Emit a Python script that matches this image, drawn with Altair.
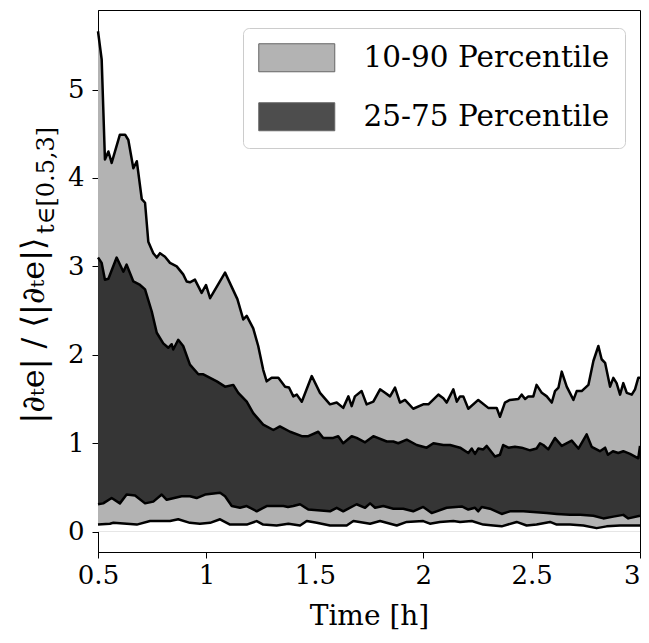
import altair as alt
import pandas as pd

# ---- data ----
p90_t = [0.500,0.517,0.532,0.548,0.563,0.601,0.625,0.640,0.663,0.679,0.702,0.717,0.732,0.755,0.771,0.786,0.809,0.832,0.863,0.893,0.909,0.924,0.947,0.978,0.998,1.017,1.086,1.143,1.170,1.186,1.216,1.239,1.262,1.278,1.301,1.332,1.363,1.381,1.401,1.417,1.440,1.486,1.524,1.570,1.601,1.631,1.655,1.670,1.685,1.716,1.739,1.770,1.801,1.824,1.847,1.870,1.893,1.916,1.954,2.000,2.024,2.070,2.093,2.108,2.139,2.155,2.170,2.185,2.208,2.254,2.300,2.339,2.354,2.377,2.400,2.439,2.454,2.470,2.485,2.508,2.523,2.547,2.570,2.593,2.608,2.624,2.639,2.662,2.693,2.708,2.731,2.762,2.785,2.808,2.823,2.839,2.862,2.877,2.892,2.908,2.923,2.939,2.962,2.977,2.992,3.000]
p90_v = [5.66,5.34,4.21,4.30,4.17,4.49,4.49,4.43,4.11,4.19,3.76,3.72,3.28,3.15,3.10,3.15,3.11,3.04,3.00,2.91,2.83,2.82,2.85,2.70,2.79,2.64,2.93,2.63,2.40,2.44,2.30,2.10,1.83,1.70,1.74,1.74,1.64,1.63,1.53,1.55,1.47,1.76,1.57,1.44,1.46,1.40,1.53,1.42,1.53,1.59,1.44,1.47,1.61,1.57,1.53,1.63,1.46,1.49,1.39,1.44,1.44,1.55,1.51,1.46,1.61,1.47,1.53,1.53,1.39,1.49,1.40,1.40,1.30,1.46,1.49,1.50,1.55,1.50,1.53,1.53,1.66,1.57,1.53,1.46,1.59,1.63,1.81,1.64,1.49,1.59,1.59,1.66,1.93,2.10,1.95,1.91,1.64,1.74,1.68,1.55,1.68,1.57,1.55,1.61,1.74,1.74]

p75_t = [0.500,0.517,0.532,0.548,0.586,0.617,0.632,0.663,0.694,0.717,0.748,0.771,0.801,0.824,0.840,0.847,0.870,0.893,0.924,0.963,0.986,1.017,1.048,1.086,1.124,1.147,1.186,1.216,1.262,1.309,1.339,1.386,1.440,1.470,1.516,1.539,1.585,1.608,1.631,1.670,1.693,1.732,1.770,1.832,1.862,1.885,1.924,1.970,2.016,2.047,2.093,2.124,2.170,2.208,2.224,2.239,2.254,2.277,2.293,2.331,2.354,2.369,2.393,2.423,2.454,2.493,2.523,2.539,2.554,2.577,2.608,2.639,2.685,2.716,2.754,2.777,2.815,2.839,2.852,2.875,2.900,2.923,2.954,2.992,3.000]
p75_v = [3.10,3.04,2.85,2.86,3.10,2.94,3.02,2.83,2.79,2.74,2.49,2.25,2.13,2.08,2.12,2.06,2.17,2.10,1.89,1.78,1.78,1.74,1.70,1.64,1.66,1.57,1.47,1.34,1.21,1.15,1.19,1.13,1.08,1.08,1.13,1.06,1.06,1.08,1.00,1.08,1.06,1.01,1.08,1.02,1.02,1.00,1.04,0.98,0.95,1.00,0.98,0.98,0.95,0.89,0.94,0.88,0.94,0.93,0.97,0.85,0.87,0.98,0.95,0.96,0.95,0.92,0.94,1.00,0.98,0.93,1.06,0.97,1.03,0.94,1.10,0.96,0.91,0.95,0.87,0.91,0.89,0.91,0.88,0.83,0.97]

p25_t = [0.500,0.524,0.563,0.601,0.632,0.671,0.717,0.755,0.794,0.817,0.886,0.924,0.955,0.994,1.063,1.086,1.117,1.155,1.186,1.232,1.278,1.355,1.376,1.401,1.432,1.470,1.570,1.601,1.631,1.693,1.732,1.755,1.778,1.816,1.862,1.908,1.954,2.000,2.039,2.108,2.178,2.208,2.239,2.254,2.270,2.308,2.362,2.400,2.462,2.523,2.570,2.616,2.677,2.724,2.785,2.831,2.877,2.923,2.946,3.000]
p25_v = [0.31,0.32,0.38,0.32,0.42,0.41,0.32,0.34,0.42,0.36,0.40,0.40,0.38,0.42,0.44,0.40,0.29,0.27,0.29,0.23,0.29,0.29,0.28,0.29,0.31,0.25,0.23,0.27,0.23,0.31,0.27,0.32,0.27,0.29,0.26,0.26,0.23,0.28,0.21,0.27,0.285,0.25,0.27,0.23,0.28,0.26,0.20,0.23,0.23,0.22,0.21,0.20,0.19,0.19,0.18,0.15,0.17,0.19,0.15,0.18]

p10_t = [0.500,0.555,0.571,0.679,0.740,0.832,0.870,0.924,0.970,1.017,1.063,1.109,1.186,1.232,1.262,1.324,1.378,1.432,1.463,1.509,1.570,1.647,1.678,1.755,1.801,1.878,1.924,2.000,2.031,2.077,2.139,2.170,2.224,2.277,2.323,2.362,2.431,2.477,2.523,2.585,2.616,2.677,2.739,2.800,2.846,2.908,3.000]
p10_v = [0.08,0.09,0.10,0.08,0.12,0.12,0.14,0.10,0.09,0.10,0.14,0.08,0.08,0.12,0.08,0.07,0.09,0.07,0.12,0.10,0.07,0.07,0.12,0.09,0.12,0.07,0.11,0.12,0.09,0.11,0.12,0.11,0.12,0.08,0.07,0.06,0.11,0.07,0.08,0.11,0.08,0.08,0.07,0.04,0.06,0.07,0.07]

legend_labels = ["10-90 Percentile", "25-75 Percentile"]
legend_colors = ["#b3b3b3", "#4d4d4d"]
x_ticks = [0.5, 1, 1.5, 2, 2.5, 3]
y_ticks = [0, 1, 2, 3, 4, 5]
x_title = "Time [h]"
y_title = "|∂ₜe| / ⟨|∂ₜe|⟩"
y_subscript = "t∈[0.5,3]"

FONT = "DejaVu Serif"

d90 = pd.DataFrame({"t": p90_t, "v": p90_v, "band": legend_labels[0], "curve": "p90"})
d75 = pd.DataFrame({"t": p75_t, "v": p75_v, "band": legend_labels[1], "curve": "p75"})
d25 = pd.DataFrame({"t": p25_t, "v": p25_v, "curve": "p25"})
d10 = pd.DataFrame({"t": p10_t, "v": p10_v, "curve": "p10"})
dall = pd.concat([d90, d75, d25, d10], ignore_index=True)[["t", "v", "curve"]]

x = alt.X("t:Q",
          scale=alt.Scale(domain=[0.5, 3], nice=False, zero=False),
          axis=alt.Axis(values=x_ticks, format="~g", title=x_title,
                        labelPadding=4, titlePadding=14,
                        labelAlign=alt.ExprRef("datum.value == 3 ? 'right' : 'center'")))
y = alt.Y("v:Q",
          scale=alt.Scale(domain=[-0.23, 5.9], nice=False, zero=False),
          axis=alt.Axis(values=y_ticks, title=y_title, titleX=-65, titleY=413,
                        titleAngle=270, titleAlign="left", titleBaseline="middle",
                        labelPadding=8, titleFontSize=32))

color = alt.Color("band:N",
                  scale=alt.Scale(domain=legend_labels, range=legend_colors),
                  legend=alt.Legend(title=None, orient="none", legendX=145, legendY=18,
                                    symbolType="M-1,-1H4.43V1H-1Z", symbolSize=784,
                                    labelOffset=76, rowPadding=26, padding=15,
                                    fillColor="white", strokeColor="#cccccc",
                                    cornerRadius=6, labelFont=FONT, labelFontSize=29.5,
                                    labelColor="black", labelLimit=500,
                                    symbolStrokeColor="#666666", symbolStrokeWidth=1,
                                    symbolOpacity=1))

a90 = alt.Chart(d90).mark_area().encode(x=x, y=y, color=color)
a75 = alt.Chart(d75).mark_area().encode(x=x, y=y, color=color)
a75dark = alt.Chart(d75).mark_area(color="black", opacity=0.3).encode(x=x, y=y)
a25 = alt.Chart(d25).mark_area(color="#b3b3b3").encode(x=x, y=y)
a10 = alt.Chart(d10).mark_area(color="white").encode(x=x, y=y)
lines = alt.Chart(dall).mark_line(color="black", strokeWidth=2.5, strokeJoin="round").encode(
    x=x, y=y, detail="curve:N")
sub = alt.Chart(pd.DataFrame({"s": [y_subscript]})).mark_text(
    angle=270, align="left", baseline="middle", font=FONT, fontSize=24, color="black"
).encode(x=alt.value(-51), y=alt.value(224), text="s:N")

chart = alt.layer(a90, a75, a75dark, a25, a10, lines, sub).properties(
    width=542, height=542,
    autosize=alt.AutoSizeParams(type="none"),
    padding={"left": 90, "top": 2, "right": 1, "bottom": 83},
).configure_view(stroke="black", strokeWidth=1).configure_axis(
    domainColor="black", tickColor="black", labelColor="black", titleColor="black",
    labelFont=FONT, titleFont=FONT, labelFontSize=26, titleFontSize=28,
    titleFontWeight="normal", tickSize=6, grid=False, domainWidth=1, tickWidth=1,
    labelFlush=False,
)

chart.save("out.html", embed_options={"renderer": "svg", "actions": False})
